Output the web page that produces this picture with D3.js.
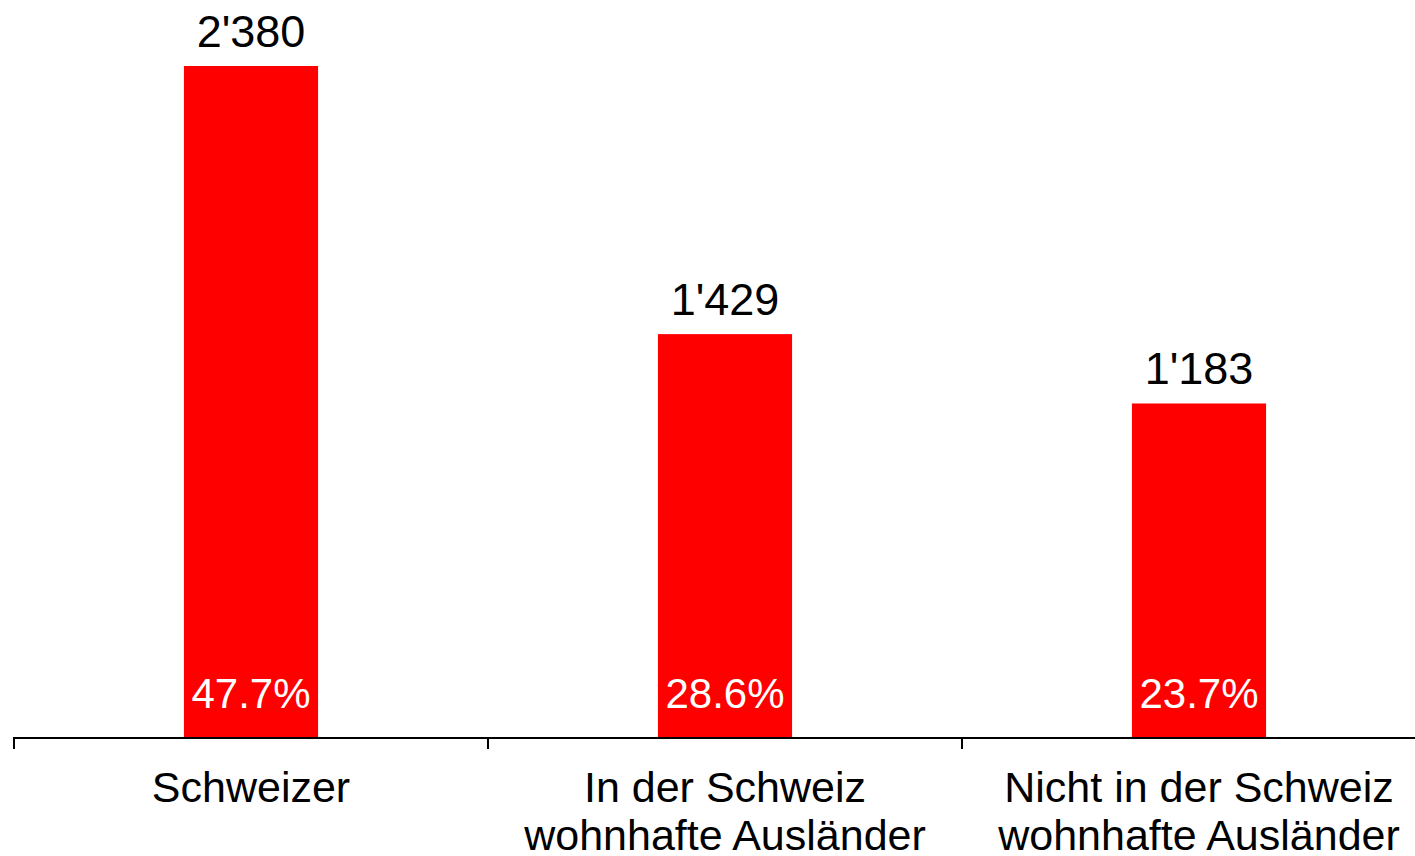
<!DOCTYPE html>
<html>
<head>
<meta charset="utf-8">
<script src="https://cdn.jsdelivr.net/npm/d3@7"></script>
<style>
  body { margin: 0; background: #fff; }
  text { font-family: "Liberation Sans", Arial, sans-serif; }
</style>
</head>
<body>
<div id="chart"></div>
<script>
// data
var categories = [
  ["Schweizer"],
  ["In der Schweiz", "wohnhafte Ausländer"],
  ["Nicht in der Schweiz", "wohnhafte Ausländer"]
];
var counts = [2380, 1429, 1183];
var shares = ["47.7%", "28.6%", "23.7%"];
var countLabels = ["2'380", "1'429", "1'183"];

var width = 1415, height = 856;
var marginLeft = 14, baseY = 737, topY = 66;

var svg = d3.select("#chart").append("svg")
    .attr("width", width)
    .attr("height", height);

var xScale = d3.scaleBand()
    .domain(d3.range(categories.length))
    .range([marginLeft, marginLeft + 474 * 3])
    .paddingInner(0.717)
    .paddingOuter(0.3585);

var yScale = d3.scaleLinear()
    .domain([0, 2380])
    .range([baseY, topY]);

// bars
svg.selectAll("rect.bar")
  .data(counts)
  .enter().append("rect")
    .attr("class", "bar")
    .attr("x", function(d, i) { return xScale(i); })
    .attr("y", function(d) { return yScale(d); })
    .attr("width", xScale.bandwidth())
    .attr("height", function(d) { return baseY - yScale(d); })
    .style("fill", "#ff0000");

// values above bars
svg.selectAll("text.count")
  .data(counts)
  .enter().append("text")
    .attr("class", "count")
    .attr("x", function(d, i) { return xScale(i) + xScale.bandwidth() / 2; })
    .attr("y", function(d) { return yScale(d) - 19; })
    .attr("text-anchor", "middle")
    .style("font-size", "45px")
    .style("fill", "#000")
    .text(function(d, i) { return countLabels[i]; });

// percentages inside bars
svg.selectAll("text.share")
  .data(shares)
  .enter().append("text")
    .attr("class", "share")
    .attr("x", function(d, i) { return xScale(i) + xScale.bandwidth() / 2; })
    .attr("y", baseY - 29)
    .attr("text-anchor", "middle")
    .style("font-size", "42px")
    .style("fill", "#fff")
    .text(function(d) { return d; });

// axis line + ticks between categories
svg.append("line")
    .attr("x1", marginLeft).attr("x2", width)
    .attr("y1", baseY + 1).attr("y2", baseY + 1)
    .style("stroke", "#000").style("stroke-width", 2);

svg.selectAll("line.tick")
  .data(d3.range(categories.length))
  .enter().append("line")
    .attr("class", "tick")
    .attr("x1", function(i) { return xScale(i) - xScale.step() * xScale.paddingOuter(); })
    .attr("x2", function(i) { return xScale(i) - xScale.step() * xScale.paddingOuter(); })
    .attr("y1", baseY).attr("y2", baseY + 12)
    .style("stroke", "#000").style("stroke-width", 2);

// category labels
var cat = svg.selectAll("text.cat")
  .data(categories)
  .enter().append("text")
    .attr("class", "cat")
    .attr("text-anchor", "middle")
    .style("font-size", "43px")
    .style("fill", "#000");

cat.selectAll("tspan")
  .data(function(d, i) { return d.map(function(s) { return {s: s, i: i}; }); })
  .enter().append("tspan")
    .attr("x", function(d) { return xScale(d.i) + xScale.bandwidth() / 2; })
    .attr("y", function(d, j) { return 802 + j * 48; })
    .text(function(d) { return d.s; });
</script>
</body>
</html>
